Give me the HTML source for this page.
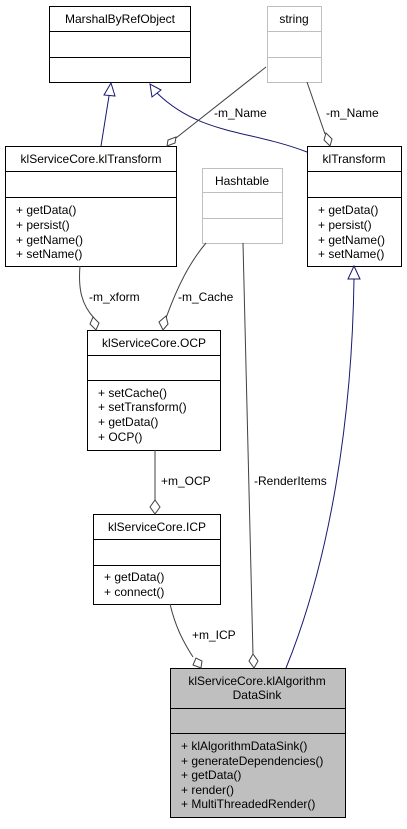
<!DOCTYPE html>
<html><head><meta charset="utf-8"><style>html,body{margin:0;padding:0;background:#fff}</style></head><body>
<svg width="407" height="824" xmlns="http://www.w3.org/2000/svg" font-family="Liberation Sans, Arial, sans-serif" font-size="12">
<rect width="407" height="824" fill="#fff"/>
<g fill="#fff" stroke="#000" stroke-width="1">
<!-- MarshalByRefObject -->
<rect x="49.5" y="6.5" width="141" height="76"/><line x1="49.5" y1="31.5" x2="190.5" y2="31.5"/><line x1="49.5" y1="57.5" x2="190.5" y2="57.5"/>
<!-- klSC.klTransform -->
<rect x="5.5" y="146.5" width="171" height="120"/><line x1="5.5" y1="171.5" x2="176.5" y2="171.5"/><line x1="5.5" y1="197.5" x2="176.5" y2="197.5"/>
<!-- klTransform -->
<rect x="307.5" y="146.5" width="94" height="120"/><line x1="307.5" y1="171.5" x2="401.5" y2="171.5"/><line x1="307.5" y1="197.5" x2="401.5" y2="197.5"/>
<!-- OCP -->
<rect x="87.5" y="330.5" width="133" height="120"/><line x1="87.5" y1="355.5" x2="220.5" y2="355.5"/><line x1="87.5" y1="380.5" x2="220.5" y2="380.5"/>
<!-- ICP -->
<rect x="93.5" y="514.5" width="127" height="90"/><line x1="93.5" y1="539.5" x2="220.5" y2="539.5"/><line x1="93.5" y1="565.5" x2="220.5" y2="565.5"/>
<!-- Sink -->
<rect x="170.5" y="668.5" width="175" height="149" fill="#bfbfbf"/><line x1="170.5" y1="708.5" x2="345.5" y2="708.5"/><line x1="170.5" y1="733.5" x2="345.5" y2="733.5"/>
</g>
<g fill="#fff" stroke="#bfbfbf">
<rect x="267.5" y="6.5" width="54" height="76"/><line x1="267.5" y1="31.5" x2="321.5" y2="31.5"/><line x1="267.5" y1="57.5" x2="321.5" y2="57.5"/>
<rect x="202.5" y="168.5" width="80" height="75"/><line x1="202.5" y1="192.5" x2="282.5" y2="192.5"/><line x1="202.5" y1="218.5" x2="282.5" y2="218.5"/>
</g>
<!-- edges -->
<g fill="none" stroke="#191970">
<line x1="101" y1="146" x2="109" y2="96"/>
<polygon points="111,83 104,95 115,96" fill="#fff"/>
<path d="M307,152 C250,130 200,135 157,93"/>
<polygon points="150,84 152,97 161,90" fill="#fff"/>
<path d="M286,668 C330,560 352,420 354,279"/>
<polygon points="354,266 348,279 360,279" fill="#fff"/>
</g>
<g fill="none" stroke="#404040">
<line x1="266" y1="67" x2="176" y2="138"/>
<polygon points="167,146 168,140 176,137 175,143" fill="#fff"/>
<line x1="307" y1="82" x2="325" y2="134"/>
<polygon points="330,146 324,140 326,133 332,139" fill="#fff"/>
<path d="M80,266 C78,290 82,305 94,318"/>
<polygon points="96,330 90,324 93,317 99,323" fill="#fff"/>
<path d="M206,243 C190,262 178,285 166,318"/>
<polygon points="163,330 159,322 166,316 168,324" fill="#fff"/>
<line x1="243" y1="243" x2="253" y2="655"/>
<polygon points="254,668 249,661 253,654 258,661" fill="#fff"/>
<line x1="155" y1="450" x2="155" y2="502"/>
<polygon points="155,514 150,507 155,500 160,507" fill="#fff"/>
<path d="M170,604 C175,625 182,640 193,657"/>
<polygon points="201,668 193,665 196,658 202,661" fill="#fff"/>
</g>
<g fill="#000">
<text x="120" y="23" text-anchor="middle">MarshalByRefObject</text>
<text x="294" y="23" text-anchor="middle" fill="#000">string</text>
<text x="242" y="185" text-anchor="middle">Hashtable</text>
<text x="91" y="163" text-anchor="middle">klServiceCore.klTransform</text>
<text x="354" y="163" text-anchor="middle">klTransform</text>
<text x="16" y="214">+ getData()</text><text x="16" y="229">+ persist()</text><text x="16" y="244">+ getName()</text><text x="16" y="258">+ setName()</text>
<text x="318" y="214">+ getData()</text><text x="318" y="229">+ persist()</text><text x="318" y="244">+ getName()</text><text x="318" y="258">+ setName()</text>
<text x="154" y="347" text-anchor="middle">klServiceCore.OCP</text>
<text x="98" y="397">+ setCache()</text><text x="98" y="411">+ setTransform()</text><text x="98" y="426">+ getData()</text><text x="98" y="441">+ OCP()</text>
<text x="157" y="531" text-anchor="middle">klServiceCore.ICP</text>
<text x="104" y="581">+ getData()</text><text x="104" y="596">+ connect()</text>
<text x="257" y="685" text-anchor="middle">klServiceCore.klAlgorithm</text>
<text x="257" y="699" text-anchor="middle">DataSink</text>
<text x="181" y="750">+ klAlgorithmDataSink()</text><text x="181" y="765">+ generateDependencies()</text><text x="181" y="779">+ getData()</text><text x="181" y="794">+ render()</text><text x="181" y="808">+ MultiThreadedRender()</text>
<text x="214" y="117">-m_Name</text>
<text x="326" y="117">-m_Name</text>
<text x="89" y="301">-m_xform</text>
<text x="178" y="301">-m_Cache</text>
<text x="161" y="485">+m_OCP</text>
<text x="254" y="485">-RenderItems</text>
<text x="192" y="639">+m_ICP</text>
</g>
</svg>
</body></html>
